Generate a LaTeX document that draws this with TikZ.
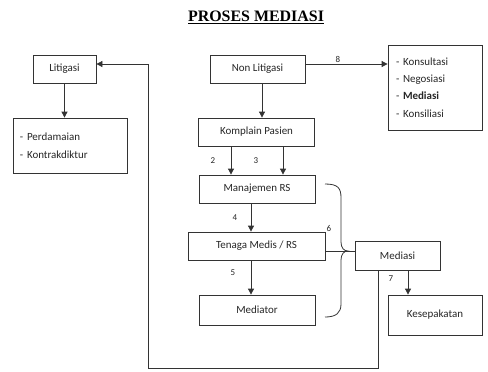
\documentclass[tikz,border=0pt]{standalone}
\usepackage{fontspec}
\setmainfont{Carlito}
\newfontfamily\titlefont{Liberation Serif}
\usetikzlibrary{arrows.meta}
\begin{document}
\begin{tikzpicture}[x=1bp,y=-1bp,
  box/.style={draw=black!80,line width=0.8pt,inner sep=0pt,text=black!85},
  conn/.style={draw=black!80,line width=0.8pt},
  arr/.style={conn,-{Triangle[length=6bp,width=6bp]}},
  num/.style={font=\fontsize{9}{10}\selectfont,text=black!85,inner sep=0pt},
  every node/.append style={font=\fontsize{11}{12}\selectfont}]
\useasboundingbox (0,0) rectangle (488,371);
\node[inner sep=0pt] (title) at (256,17) {\titlefont\bfseries\fontsize{16}{18}\selectfont\underline{PROSES MEDIASI}};
% boxes
\node[box,minimum width=63bp,minimum height=28bp] (lit) at (64.5,69) {Litigasi};
\node[box,minimum width=114bp,minimum height=55bp,align=left,text width=100bp,font=\fontsize{11}{18}\selectfont] (perd) at (70,145.5) {- Perdamaian\\- Kontrakdiktur};
\node[box,minimum width=95bp,minimum height=28bp] (nonlit) at (257.5,69) {Non Litigasi};
\node[box,minimum width=94bp,minimum height=85bp,align=left,text width=78bp,font=\fontsize{11}{17.3}\selectfont] (kons) at (435,87.5) {- Konsultasi\\- Negosiasi\\- \textbf{Mediasi}\\- Konsiliasi};
\node[box,minimum width=116bp,minimum height=28bp] (komp) at (256.5,132) {Komplain Pasien};
\node[box,minimum width=116bp,minimum height=28bp] (man) at (257,189) {Manajemen RS};
\node[box,minimum width=137bp,minimum height=28bp] (ten) at (256.5,246) {Tenaga Medis / RS};
\node[box,minimum width=116bp,minimum height=30bp] (medr) at (257,310) {Mediator};
\node[box,minimum width=85bp,minimum height=29bp] (meds) at (397.5,255.5) {Mediasi};
\node[box,minimum width=94bp,minimum height=40bp] (kes) at (435,315) {Kesepakatan};
% connectors
\draw[arr] (lit.south) -- (perd.north -| lit.south);
\draw[arr] (nonlit.south -| 262,0) -- (komp.north -| 262,0);
\draw[arr] (nonlit.east |- 0,64) coordinate (n8) -- (kons.west |- n8);
\node[num] (l8) at (338,59) {8};
\draw[arr] (komp.south -| 231,0) -- (man.north -| 231,0);
\draw[arr] (komp.south -| 283,0) -- (man.north -| 283,0);
\node[num] (l2) at (213,161) {2};
\node[num] (l3) at (256,161) {3};
\draw[arr] (man.south -| 251,0) -- (ten.north -| 251,0);
\node[num] (l4) at (235,218) {4};
\draw[arr] (ten.south -| 251,0) -- (medr.north -| 251,0);
\node[num] (l5) at (233,273) {5};
\draw[conn] (ten.east |- 0,251) -- (meds.west |- 0,251);
\node[num] (l6) at (329,228) {6};
\draw[conn] (325,184) .. controls (338,184) and (341,188) .. (341,198) -- (341,242)
  .. controls (341,248) and (344,251) .. (348,251)
  .. controls (344,251) and (341,254) .. (341,260) -- (341,304)
  .. controls (341,313) and (336,317) .. (325,317);
\draw[arr] (meds.south -| 408,0) -- (kes.north -| 408,0);
\node[num] (l7) at (391,279) {7};
\coordinate (c1) at (378,368);
\coordinate (c2) at (148,368);
\coordinate (c3) at (148,64);
\draw[arr] (meds.south -| c1) -- (c1) -- (c2) -- (c3) -- (lit.east |- c3);
\end{tikzpicture}
\end{document}
